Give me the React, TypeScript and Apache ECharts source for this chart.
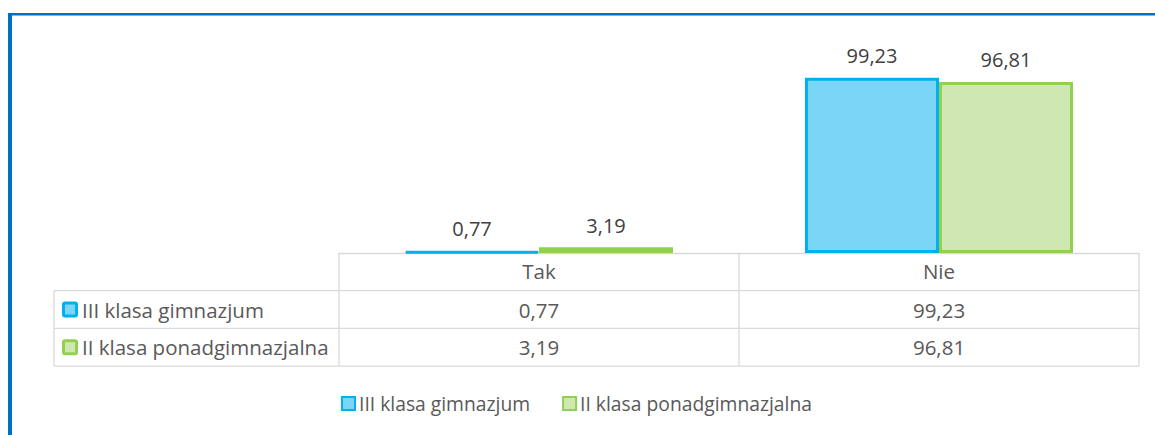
import React, { useEffect, useRef } from "react";
import * as echarts from "echarts";

const categories = ["Tak", "Nie"];
const seriesNames = ["III klasa gimnazjum", "II klasa ponadgimnazjalna"];
const gimnazjum = [0.77, 99.23];
const ponadgimnazjalna = [3.19, 96.81];
const seriesValues = [gimnazjum, ponadgimnazjalna];

const borderColors = ["#00B0F0", "#92D050"];
const fillColors = ["#7AD5F6", "#CFE8B1"];

const W = 1155;
const H = 435;
const GRID_LEFT = 339;
const GRID_RIGHT = 16;
const GRID_TOP = 41;
const BASE_Y = 253;
const ROW_H = 37.7;
const TABLE_LEFT = 54;
const FS_TABLE = 20.5;
const FS_LEGEND = 19.3;
const FS_LABEL = 20;
const FONT = "'Open Sans', 'Noto Sans', sans-serif";
const TEXT_COLOR = "#595959";
const LINE_COLOR = "#D9D9D9";

const fmt = (v: number) => v.toFixed(2).replace(".", ",");

export default function App() {
  const ref = useRef<HTMLDivElement>(null);
  useEffect(() => {
    if (!ref.current) return;
    const chart = echarts.init(ref.current, undefined, { renderer: "svg" });
    const plotW = W - GRID_LEFT - GRID_RIGHT;
    const catW = plotW / categories.length;
    const gridRight = W - GRID_RIGHT;
    const graphics: any[] = [];
    // outer blue frame
    graphics.push({ type: "rect", shape: { x: 8, y: 13, width: 4, height: H - 13 }, style: { fill: "#0070C0" } });
    graphics.push({ type: "rect", shape: { x: 8, y: 13, width: W - 8, height: 2.5 }, style: { fill: "#0070C0" } });
    // table horizontal lines
    const rowYs = [BASE_Y + ROW_H, BASE_Y + 2 * ROW_H, BASE_Y + 3 * ROW_H];
    rowYs.forEach((y) => {
      graphics.push({ type: "line", shape: { x1: TABLE_LEFT, y1: y, x2: gridRight, y2: y }, style: { stroke: LINE_COLOR, lineWidth: 1.3 } });
    });
    // vertical lines
    graphics.push({ type: "line", shape: { x1: TABLE_LEFT, y1: BASE_Y + ROW_H, x2: TABLE_LEFT, y2: BASE_Y + 3 * ROW_H }, style: { stroke: LINE_COLOR, lineWidth: 1.3 } });
    for (let i = 0; i <= categories.length; i++) {
      const x = GRID_LEFT + i * catW;
      graphics.push({ type: "line", shape: { x1: x, y1: BASE_Y, x2: x, y2: BASE_Y + 3 * ROW_H }, style: { stroke: LINE_COLOR, lineWidth: 1.3 } });
    }
    // rows
    seriesNames.forEach((name, s) => {
      const cy = BASE_Y + (s + 1.5) * ROW_H;
      graphics.push({
        type: "rect",
        shape: { x: 63.5, y: cy - 6.5, width: 13, height: 13, r: 1.5 },
        style: { fill: fillColors[s], stroke: borderColors[s], lineWidth: 3 },
      });
      graphics.push({
        type: "text",
        x: 82,
        y: cy,
        style: { text: name, font: `${FS_TABLE}px ${FONT}`, fill: TEXT_COLOR, verticalAlign: "middle", align: "left" },
      });
      seriesValues[s].forEach((v, i) => {
        graphics.push({
          type: "text",
          x: GRID_LEFT + (i + 0.5) * catW,
          y: cy,
          style: { text: fmt(v), font: `${FS_TABLE}px ${FONT}`, fill: TEXT_COLOR, verticalAlign: "middle", align: "center" },
        });
      });
    });

    chart.setOption({
      animation: false,
      textStyle: { fontFamily: FONT },
      grid: { left: GRID_LEFT, right: GRID_RIGHT, top: GRID_TOP, bottom: H - BASE_Y },
      xAxis: {
        type: "category",
        data: categories,
        axisLine: { show: true, lineStyle: { color: LINE_COLOR, width: 1.3 } },
        axisTick: { show: false },
        axisLabel: { fontSize: FS_TABLE, color: TEXT_COLOR, margin: 7, fontFamily: FONT },
      },
      yAxis: { type: "value", min: 0, max: 120, show: false, splitLine: { show: false } },
      legend: {
        left: 336,
        top: 389,
        icon: "rect",
        itemWidth: 13,
        itemHeight: 13,
        itemGap: 32,
        textStyle: { fontSize: FS_LEGEND, color: TEXT_COLOR, fontFamily: FONT, padding: [0, 0, 0, -1] },
        data: seriesNames,
      },
      series: seriesNames.map((name, s) => ({
        name,
        type: "bar",
        data: seriesValues[s],
        barWidth: 134,
        barGap: "0%",
        itemStyle: { color: fillColors[s], borderColor: borderColors[s], borderWidth: 3 },
        label: {
          show: true,
          position: "top",
          distance: 12,
          formatter: (p: any) => fmt(p.value),
          fontSize: FS_LABEL,
          color: "#404040",
          fontFamily: FONT,
        },
      })),
      graphic: graphics,
    });
    return () => chart.dispose();
  }, []);
  return <div ref={ref} style={{ position: "absolute", left: 0, top: 0, width: W, height: H }} />;
}
